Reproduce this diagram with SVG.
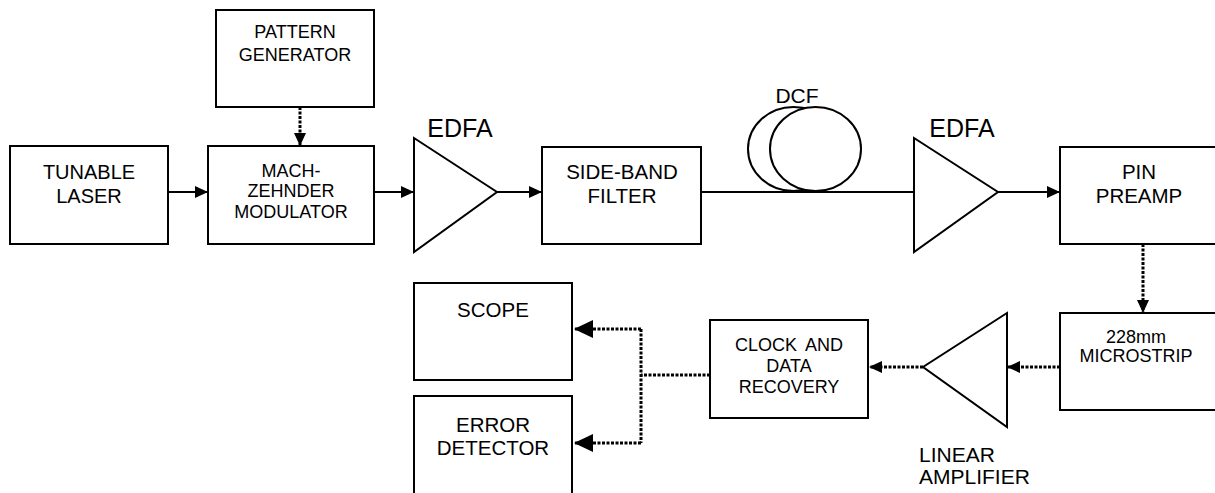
<svg xmlns="http://www.w3.org/2000/svg" width="1215" height="493" viewBox="0 0 1215 493">
<style>
.b{fill:#fff;stroke:#000;stroke-width:2}
.t{font-family:"Liberation Sans",Arial,sans-serif;fill:#000;text-anchor:middle}
.s{stroke:#000;stroke-width:2;fill:none}
.d{stroke:#000;stroke-width:3;fill:none;stroke-dasharray:3 1.5}
</style>
<defs>
<marker id="a" markerUnits="userSpaceOnUse" markerWidth="13" markerHeight="12" refX="13" refY="6" orient="auto"><path d="M0,0 L13,6 L0,12 z" fill="#000"/></marker>
<marker id="A" markerUnits="userSpaceOnUse" markerWidth="19" markerHeight="18" refX="19" refY="9" orient="auto"><path d="M0,0 L19,9 L0,18 z" fill="#000"/></marker>
</defs>
<g id="connectors">
<line class="s" x1="168" y1="192" x2="208" y2="192" marker-end="url(#a)"/>
<line class="d" x1="300" y1="107" x2="300" y2="146" marker-end="url(#a)"/>
<line class="s" x1="374" y1="192" x2="414" y2="192" marker-end="url(#a)"/>
<line class="s" x1="497" y1="192" x2="542" y2="192" marker-end="url(#a)"/>
<line class="s" x1="701" y1="192" x2="914" y2="192"/>
<line class="s" x1="998" y1="192" x2="1060" y2="192" marker-end="url(#a)"/>
<line class="d" x1="1143" y1="244" x2="1143" y2="313" marker-end="url(#a)"/>
<line class="d" x1="1060" y1="367" x2="1007" y2="367" marker-end="url(#a)"/>
<line class="d" x1="923" y1="367" x2="869" y2="367" marker-end="url(#a)"/>
<line class="d" x1="710" y1="375" x2="641" y2="375"/>
<line class="d" x1="641" y1="329" x2="641" y2="443"/>
<line class="d" x1="641" y1="329" x2="574" y2="329" marker-end="url(#A)"/>
<line class="d" x1="641" y1="443" x2="574" y2="443" marker-end="url(#A)"/>
</g>
<g id="tunable-laser">
<rect class="b" x="10" y="146" width="158" height="98"/>
<text class="t" font-size="20" x="89" y="179">TUNABLE</text>
<text class="t" font-size="20" x="89" y="203">LASER</text>
</g>
<g id="pattern-generator">
<rect class="b" x="216" y="10" width="158" height="97"/>
<text class="t" font-size="18" x="295" y="38">PATTERN</text>
<text class="t" font-size="18" x="295" y="61">GENERATOR</text>
</g>
<g id="mach-zehnder">
<rect class="b" x="208" y="146" width="166" height="98"/>
<text class="t" font-size="18" x="291" y="177">MACH-</text>
<text class="t" font-size="18" x="291" y="197">ZEHNDER</text>
<text class="t" font-size="18" x="291" y="218">MODULATOR</text>
</g>
<g id="edfa1">
<polygon class="b" points="414,138 414,252 497,192"/>
<text class="t" font-size="25" x="460" y="137">EDFA</text>
</g>
<g id="side-band-filter">
<rect class="b" x="542" y="147" width="159" height="97"/>
<text class="t" font-size="20.5" x="622" y="179">SIDE-BAND</text>
<text class="t" font-size="20.5" x="622" y="203">FILTER</text>
</g>
<g id="dcf">
<ellipse class="b" cx="793.5" cy="149" rx="45.5" ry="42"/>
<ellipse class="b" cx="815.5" cy="149" rx="45.5" ry="42"/>
<text class="t" font-size="21" x="797" y="103">DCF</text>
</g>
<g id="edfa2">
<polygon class="b" points="914,138 914,252 998,192"/>
<text class="t" font-size="25" x="962" y="137">EDFA</text>
</g>
<g id="pin-preamp">
<rect class="b" x="1060" y="147" width="170" height="97"/>
<text class="t" font-size="20.5" x="1139" y="179">PIN</text>
<text class="t" font-size="20.5" x="1139" y="203">PREAMP</text>
</g>
<g id="microstrip">
<rect class="b" x="1060" y="313" width="170" height="97"/>
<text class="t" font-size="18" x="1136" y="343">228mm</text>
<text class="t" font-size="18" x="1136" y="362">MICROSTRIP</text>
</g>
<g id="linear-amplifier">
<polygon class="b" points="1007,313 1007,427 923,367"/>
<text class="t" font-size="21" x="919" y="462" text-anchor="start" style="text-anchor:start">LINEAR</text>
<text class="t" font-size="21" x="919" y="484" style="text-anchor:start">AMPLIFIER</text>
</g>
<g id="clock-data-recovery">
<rect class="b" x="710" y="320" width="158" height="98"/>
<text class="t" font-size="18" x="789" y="351" style="word-spacing:4px">CLOCK AND</text>
<text class="t" font-size="18" x="789" y="372">DATA</text>
<text class="t" font-size="18" x="789" y="393">RECOVERY</text>
</g>
<g id="scope">
<rect class="b" x="414" y="283" width="158" height="97"/>
<text class="t" font-size="20.5" x="493" y="317">SCOPE</text>
</g>
<g id="error-detector">
<rect class="b" x="414" y="396" width="158" height="110"/>
<text class="t" font-size="20.5" x="493" y="432">ERROR</text>
<text class="t" font-size="20.5" x="493" y="455">DETECTOR</text>
</g>
</svg>
